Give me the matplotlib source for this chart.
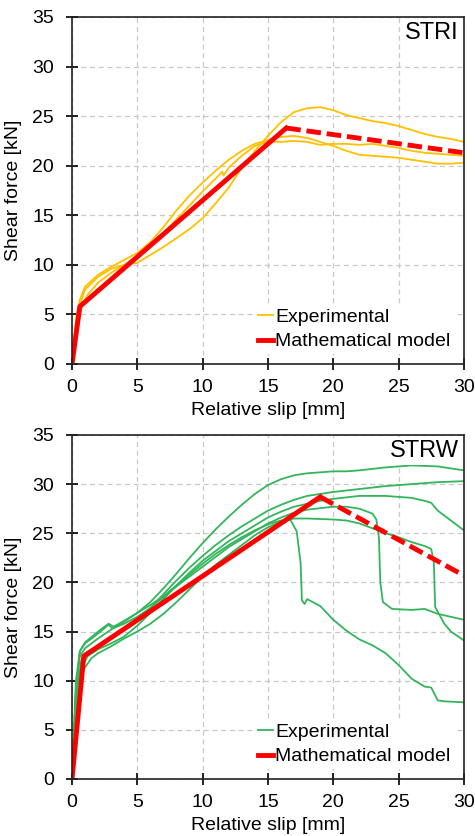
import matplotlib
matplotlib.use("Agg")
from matplotlib import pyplot as plt

plt.rcParams['font.family'] = ['Liberation Sans', 'DejaVu Sans']

# ---- STRI data ----
stri_a_x = [0, 0.3, 0.6, 1, 2, 3, 4, 5, 6, 7, 8, 9, 10, 11, 12, 13, 14, 15, 16, 17, 18, 19, 20,
            21, 22, 23, 24, 25, 26, 27, 28, 29, 30]
stri_a_y = [0, 4, 6, 7.5, 8.8, 9.6, 10, 10.2, 11, 11.8, 12.7, 13.6, 14.7, 16.2, 17.8, 19.8, 21.5,
            23, 24.4, 25.4, 25.8, 25.9, 25.6, 25.1, 24.8, 24.5, 24.3, 24, 23.6, 23.2, 22.9, 22.7, 22.4]
stri_b_x = [0, 0.3, 0.6, 1, 2, 3, 4, 5, 6, 7, 8, 9, 10, 11, 12, 13, 14, 15, 16, 17, 18, 19, 20,
            21, 22, 23, 24, 25, 26, 27, 28, 29, 30]
stri_b_y = [0, 4.5, 6.5, 7.8, 9, 9.8, 10.5, 11.2, 12.3, 13.8, 15.5, 17, 18.3, 19.5, 20.6, 21.5,
            22.2, 22.6, 22.9, 23, 22.8, 22.4, 22, 21.5, 21.1, 21, 20.9, 20.8, 20.6, 20.4, 20.2,
            20.2, 20.3]
stri_c_x = [0, 0.4, 0.8, 1.2, 2, 3, 4, 5, 6, 7, 8, 9, 10, 11, 11.5, 11.6, 12, 13, 14, 15, 16, 17,
            18, 19, 20, 21, 22, 23, 24, 25, 26, 27, 28, 29, 30]
stri_c_y = [0, 4, 6, 7, 8.2, 9.2, 10, 10.9, 12, 13.2, 14.6, 16, 17.4, 18.7, 19.4, 19.0, 19.8, 21,
            22, 22.4, 22.4, 22.5, 22.4, 22.1, 22.2, 22.2, 22.1, 22.2, 22, 21.8, 21.5, 21.3, 21.2,
            21.1, 21]
stri_model_x = [0, 0.6, 16.4]
stri_model_y = [0, 5.8, 23.8]
stri_post_x = [16.4, 30]
stri_post_y = [23.8, 21.3]

# ---- STRW data ----
strw_1_x = [0, 0.3, 0.6, 1, 2, 3, 4, 5, 6, 7, 8, 9, 10, 11, 12, 13, 14, 15, 16, 17, 18, 20, 21,
            22, 24, 26, 28, 30]
strw_1_y = [0, 9, 12.5, 13.3, 14.3, 15.2, 16, 16.9, 18, 19.4, 20.9, 22.5, 24, 25.4, 26.7, 27.9,
            29, 29.9, 30.5, 30.9, 31.1, 31.3, 31.3, 31.4, 31.7, 31.9, 31.8, 31.4]
strw_2_x = [0, 0.3, 0.7, 1, 2, 3, 4, 5, 6, 7, 8, 9, 10, 11, 12, 13, 14, 15, 16, 17, 18, 20, 22,
            24, 26, 28, 30]
strw_2_y = [0, 8, 12, 12.8, 13.5, 14.3, 15.2, 16.2, 17.4, 18.8, 20.2, 21.5, 22.7, 23.8, 24.8,
            25.7, 26.5, 27.3, 27.9, 28.4, 28.8, 29.2, 29.5, 29.8, 30, 30.2, 30.3]
strw_3_x = [0, 0.4, 0.8, 1.2, 2, 3, 4, 5, 6, 7, 8, 9, 10, 11, 12, 13, 14, 15, 16, 17, 18, 19, 20,
            22, 24, 26, 27, 27.5, 28, 29, 30]
strw_3_y = [0, 8, 11.5, 12.5, 13.2, 13.8, 14.5, 15.6, 16.9, 18.3, 19.7, 21, 22.2, 23.2, 24.2, 25,
            25.8, 26.6, 27.2, 27.7, 28, 28.3, 28.5, 28.8, 28.8, 28.6, 28.3, 28.1, 27.3, 26.3, 25.3]
strw_4_x = [0, 0.3, 0.6, 1, 2, 2.8, 3.1, 4, 5, 6, 7, 8, 9, 10, 11, 12, 13, 14, 15, 16, 17, 18, 20,
            21, 22, 23, 23.3, 23.5, 23.6, 23.8, 24.5, 26, 27, 28, 30]
strw_4_y = [0, 9, 13, 13.8, 14.8, 15.7, 15.3, 15.8, 16.5, 17.4, 18.5, 19.6, 20.6, 21.6, 22.6,
            23.6, 24.4, 25.2, 26, 26.6, 27.1, 27.4, 27.7, 27.7, 27.5, 27, 26.4, 24.5, 20, 18, 17.3,
            17.2, 17.3, 16.8, 16.2]
strw_5_x = [0, 0.4, 0.8, 1.5, 2, 3, 4, 5, 6, 7, 8, 9, 10, 11, 12, 13, 14, 15, 16, 17, 18, 20, 21,
            22, 23, 24, 25, 26, 27, 27.5, 27.7, 27.8, 28, 28.5, 29, 30]
strw_5_y = [0, 7, 11, 12.3, 12.8, 13.5, 14.3, 15, 15.8, 16.8, 18, 19.3, 20.6, 21.8, 22.8, 23.8,
            24.8, 25.6, 26.2, 26.5, 26.5, 26.4, 26.3, 26, 25.5, 25, 24.6, 24.1, 23.7, 23.4, 22,
            17.5, 17, 15.8, 15, 14.1]
strw_6_x = [0, 0.3, 0.6, 1, 2, 2.8, 3.2, 4, 5, 6, 7, 8, 9, 10, 11, 12, 13, 14, 15, 16, 16.7, 17.2,
            17.5, 17.6, 17.8, 18, 19, 20, 21, 22, 23, 24, 25, 26, 27, 27.5, 28, 28.5, 30]
strw_6_y = [0, 10, 13, 13.9, 15, 15.8, 15.5, 16.1, 16.9, 17.7, 18.6, 19.7, 20.8, 21.9, 22.9, 23.8,
            24.6, 25.3, 25.9, 26.3, 26.4, 25.2, 22, 18.2, 17.8, 18.3, 17.6, 16.2, 15.1, 14.2, 13.6,
            12.8, 11.6, 10.2, 9.4, 9.3, 8, 7.9, 7.8]
strw_model_x = [0, 0.9, 19]
strw_model_y = [0, 12.5, 28.7]
strw_post_x = [19, 30]
strw_post_y = [28.7, 20.7]

yellow = '#FFC000'
green = '#33B55C'
red = '#FF0000'

fig = plt.figure(figsize=(4.75, 8.36), dpi=100)
ax1 = fig.add_axes([0.1516, 0.5646, 0.825, 0.4151])
ax2 = fig.add_axes([0.1516, 0.0682, 0.825, 0.4115])


def setup(ax, name):
    ax.set_xlim(0, 30)
    ax.set_ylim(0, 35)
    ax.set_xticks(range(0, 31, 5))
    ax.set_yticks(range(0, 36, 5))
    ax.grid(True, color='#c8c8c8', linestyle=(0, (4, 3)), linewidth=0.9)
    ax.set_axisbelow(True)
    ax.tick_params(direction='inout', length=8, width=1.2, labelsize=14)
    ax.tick_params(axis='x', pad=7)
    ax.tick_params(axis='y', pad=9)
    for s in ax.spines.values():
        s.set_linewidth(1.2)
        s.set_color('#222222')
    ax.set_xlabel('Relative slip [mm]', fontsize=14)
    ax.set_ylabel('Shear force [kN]', fontsize=14)
    ax.xaxis.set_label_coords(0.5, -0.11)
    ax.yaxis.set_label_coords(-0.128, 0.5)
    ax.text(29.6, 34.5, name, fontsize=17, ha='right', va='top', zorder=10,
            bbox=dict(facecolor='white', edgecolor='none', pad=2))


def add_legend(ax):
    leg = ax.legend(loc='lower right', bbox_to_anchor=(1.0, 0.0), frameon=True, fontsize=14,
                    handlelength=0.8, handletextpad=0.1, borderpad=0.2, labelspacing=0.35)
    leg.get_frame().set_edgecolor('none')
    leg.get_frame().set_alpha(1)


setup(ax1, 'STRI')
ax1.plot(stri_a_x, stri_a_y, color=yellow, lw=1.3, label='Experimental')
ax1.plot(stri_b_x, stri_b_y, color=yellow, lw=1.3)
ax1.plot(stri_c_x, stri_c_y, color=yellow, lw=1.3)
ax1.plot(stri_model_x, stri_model_y, color=red, lw=3.5, label='Mathematical model')
ax1.plot(stri_post_x, stri_post_y, color=red, lw=3.5, dashes=(3, 1.2))
add_legend(ax1)

setup(ax2, 'STRW')
for i, (xs, ys) in enumerate([(strw_1_x, strw_1_y), (strw_2_x, strw_2_y), (strw_3_x, strw_3_y),
                              (strw_4_x, strw_4_y), (strw_5_x, strw_5_y), (strw_6_x, strw_6_y)]):
    ax2.plot(xs, ys, color=green, lw=1.3, label='Experimental' if i == 0 else None)
ax2.plot(strw_model_x, strw_model_y, color=red, lw=3.5, label='Mathematical model')
ax2.plot(strw_post_x, strw_post_y, color=red, lw=3.5, dashes=(3, 1.2))
add_legend(ax2)

fig.savefig('out.png', dpi=100)
